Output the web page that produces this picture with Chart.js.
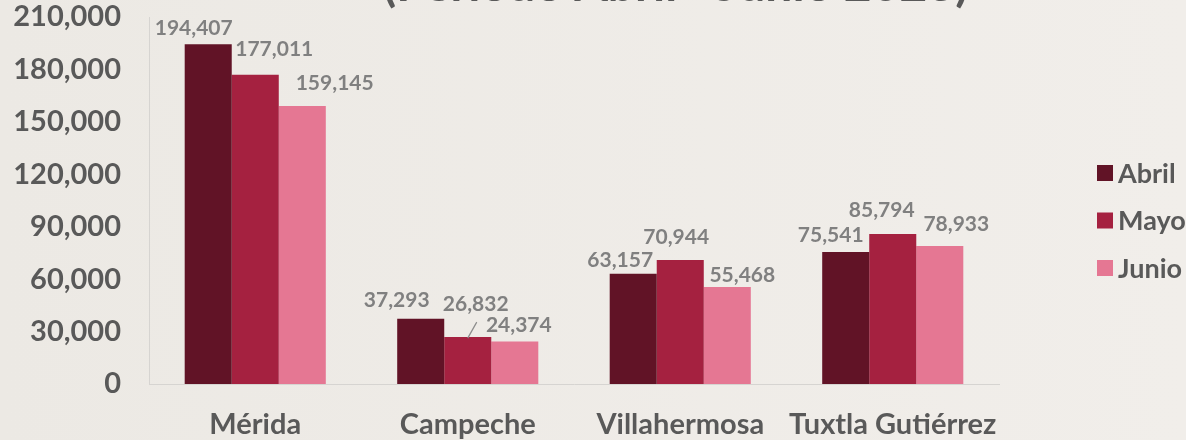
<!DOCTYPE html>
<html><head><meta charset="utf-8">
<script src="https://cdn.jsdelivr.net/npm/chart.js@4/dist/chart.umd.min.js"></script>
<style>
html,body{margin:0;padding:0;background:#EEEBE7;overflow:hidden;}
#wrap{width:1186px;height:440px;position:relative;overflow:hidden;}
canvas{display:block;}
</style></head><body>
<div id="wrap"><canvas id="c" width="1186" height="440"></canvas></div>
<script>
// ---- data ----
const categories = ['Mérida', 'Campeche', 'Villahermosa', 'Tuxtla Gutiérrez'];
const seriesNames = ['Abril', 'Mayo', 'Junio'];
const abril = [194407, 37293, 63157, 75541];
const mayo  = [177011, 26832, 70944, 85794];
const junio = [159145, 24374, 55468, 78933];
const yTickValues = [0, 30000, 60000, 90000, 120000, 150000, 180000, 210000];
const titleText = '(Período Abril - Junio 2023)';

// ---- styling ----
const colors = ['#611326', '#A52140', '#E57793'];
const FONT = 'Lato, "Open Sans", sans-serif';
const textGray = '#595959';
const labelGray = '#808080';
// label placement offsets (px) relative to bar top centre: [dx, dy, leader]
const labelOffsets = [
  [[-14.5, -17], [-24, -19], [-13, -14], [-15, -17]],
  [[19, -26.5], [8, -34, true], [-4, -24], [-11, -24.5]],
  [[32.4, -23], [4, -17], [15, -13], [16.5, -23]]
];

const fmt = v => v.toLocaleString('en-US');

const bgPlugin = {
  id: 'bg',
  beforeDraw(chart) {
    const {ctx, width, height} = chart;
    const g = ctx.createLinearGradient(0, 0, width, 0);
    g.addColorStop(0, '#ECE9E4');
    g.addColorStop(1, '#F1EEEA');
    ctx.save();
    ctx.fillStyle = g;
    ctx.fillRect(0, 0, width, height);
    ctx.restore();
  }
};

const labelPlugin = {
  id: 'vlabels',
  afterDatasetsDraw(chart) {
    const ctx = chart.ctx;
    ctx.save();
    ctx.font = 'bold 21px ' + FONT;
    ctx.fillStyle = labelGray;
    ctx.textAlign = 'center';
    ctx.textBaseline = 'alphabetic';
    chart.data.datasets.forEach((ds, di) => {
      const meta = chart.getDatasetMeta(di);
      meta.data.forEach((bar, i) => {
        const off = labelOffsets[di][i];
        const cx = bar.x + off[0];
        const cy = bar.y + off[1];
        ctx.fillText(fmt(ds.data[i]), cx, cy + 7.5);
        if (off[2]) {
          ctx.strokeStyle = '#8C8C8C';
          ctx.lineWidth = 1.2;
          ctx.beginPath();
          ctx.moveTo(cx + 1, cy + 19);
          ctx.lineTo(bar.x, bar.y + 1);
          ctx.stroke();
        }
      });
    });
    ctx.restore();
  }
};

const titlePlugin = {
  id: 'cutTitle',
  afterDraw(chart) {
    const ctx = chart.ctx;
    ctx.save();
    ctx.font = 'bold 48px ' + FONT;
    ctx.fillStyle = textGray;
    ctx.textAlign = 'left';
    ctx.textBaseline = 'alphabetic';
    ctx.fillText(titleText, 383, 0.5);
    ctx.restore();
  }
};

const legendPlugin = {
  id: 'sideLegend',
  afterDraw(chart) {
    const ctx = chart.ctx;
    ctx.save();
    ctx.font = 'bold 27px ' + FONT;
    ctx.textAlign = 'left';
    ctx.textBaseline = 'alphabetic';
    chart.data.datasets.forEach((ds, i) => {
      const cy = 173 + i * 47.5;
      ctx.fillStyle = ds.backgroundColor;
      ctx.fillRect(1097, cy - 8, 16, 16);
      ctx.fillStyle = textGray;
      ctx.fillText(ds.label, 1118, cy + 9.6);
    });
    ctx.restore();
  }
};

new Chart(document.getElementById('c'), {
  type: 'bar',
  data: {
    labels: categories,
    datasets: [
      {label: seriesNames[0], data: abril, backgroundColor: colors[0]},
      {label: seriesNames[1], data: mayo, backgroundColor: colors[1]},
      {label: seriesNames[2], data: junio, backgroundColor: colors[2]}
    ]
  },
  options: {
    responsive: false,
    animation: false,
    devicePixelRatio: 1,
    layout: {padding: {left: 0, right: 187, top: 17, bottom: 0}},
    datasets: {bar: {categoryPercentage: 0.664, barPercentage: 1}},
    plugins: {legend: {display: false}, title: {display: false}, tooltip: {enabled: false}},
    scales: {
      x: {
        grid: {display: false, drawTicks: false},
        border: {display: true, color: '#D6D4D1', width: 1},
        ticks: {font: {family: FONT, size: 29, weight: 'bold'}, color: textGray, padding: 23, maxRotation: 0, autoSkip: false},
        afterFit(s) { s.height = 56; s.paddingLeft = 0; s.paddingRight = 0; }
      },
      y: {
        min: 0, max: 210000,
        grid: {display: false, drawTicks: false},
        border: {display: true, color: '#D6D4D1', width: 1},
        afterBuildTicks(s) { s.ticks = yTickValues.map(v => ({value: v})); },
        ticks: {font: {family: FONT, size: 29, weight: 'bold'}, color: textGray, padding: 28, callback: v => fmt(v)},
        afterFit(s) { s.width = 149; s.paddingTop = 0; s.paddingBottom = 0; }
      }
    }
  },
  plugins: [bgPlugin, labelPlugin, titlePlugin, legendPlugin]
});
</script>
</body></html>
